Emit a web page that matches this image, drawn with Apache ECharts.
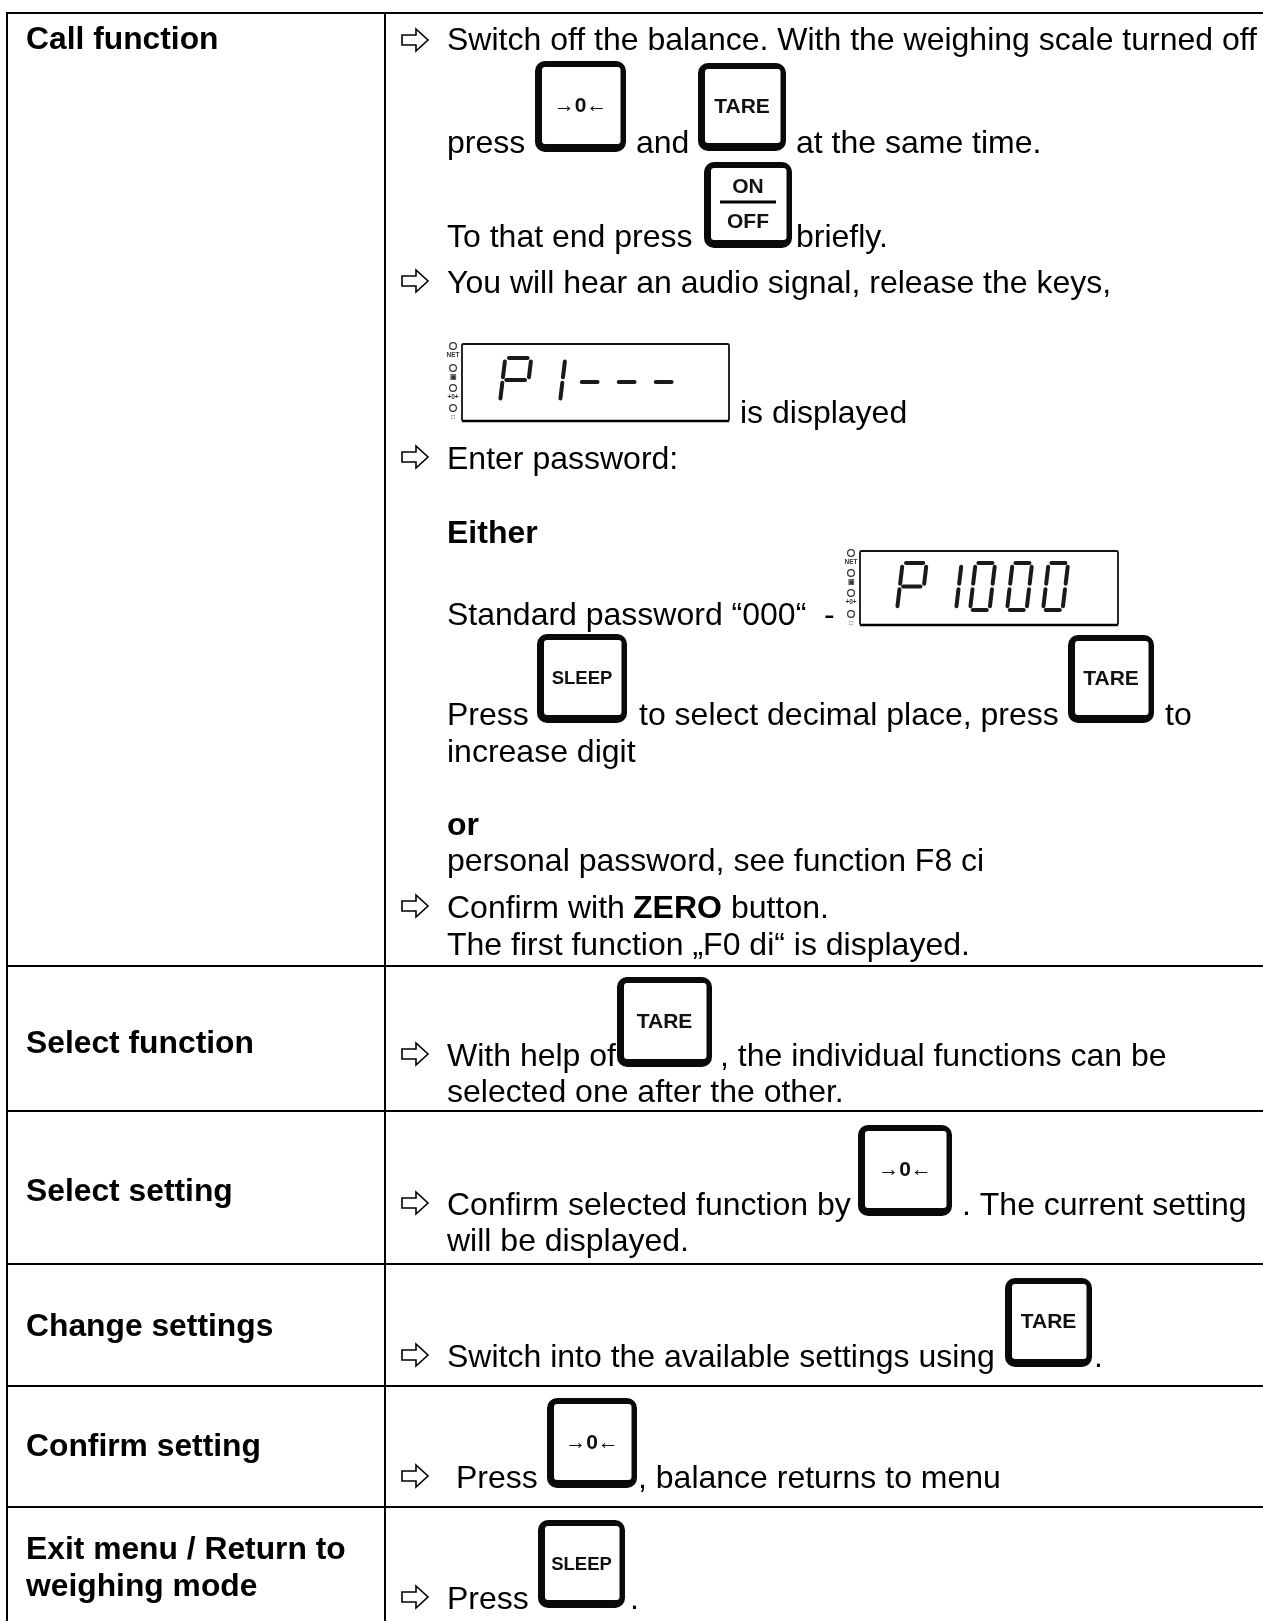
<!DOCTYPE html>
<html><head><meta charset="utf-8">
<style>html,body{margin:0;padding:0;background:#fff}#c{width:1263px;height:1621px}</style>
<script src="https://cdn.jsdelivr.net/npm/echarts@6/dist/echarts.min.js"></script>
</head><body><div id="c"></div>
<script>
const rowLabels = ["Call function","Select function","Select setting","Change settings","Confirm setting","Exit menu / Return to","weighing mode"];
const textLines = ["Switch off the balance. With the weighing scale turned off","press","and","at the same time.","To that end press","briefly.","You will hear an audio signal, release the keys,","is displayed","Enter password:","Standard password “000“  -","Press","to select decimal place, press","to","increase digit","personal password, see function F8 ci","Confirm with","button.","The first function „F0 di“ is displayed.","With help of",", the individual functions can be","selected one after the other.","Confirm selected function by",". The current setting","will be displayed.","Switch into the available settings using",".","Press",", balance returns to menu"];
const boldLines = ["Either","or","ZERO"];
const keyNames = ["→0←","TARE","SLEEP","ON","OFF"];
const lcdTexts = ["P1---","P1000"];
const lcdIconLabels = ["NET","▣","+0+","□"];

const FONT='"Liberation Sans", Arial, sans-serif', FS=32;
const els=[];
const line=(x1,y1,x2,y2,w=2)=>els.push({type:'line',shape:{x1,y1,x2,y2},style:{stroke:'#000',lineWidth:w}});
const TX=(text,x,y,bold,size,align,fill)=>els.push({type:'text',x,y:y-size*0.3465,style:{text,fill:fill||'#000',font:(bold?'bold ':'')+size+'px '+FONT,align:align||'left',verticalAlign:'middle'}});
const T=(text,x,y,bold,size=FS,align='left')=>TX(text,x,y+2,bold,size,align);
const t=(i,x,y)=>T(textLines[i],x,y,false);
const b=(i,x,y)=>T(boldLines[i],x,y,true);
const L=(i,y)=>T(rowLabels[i],26,y,true,31.8);
const arrow=(y)=>{const x=402,c=y-12;els.push({type:'polygon',shape:{points:[[x,c-5],[x+14,c-5],[x+14,c-11],[x+26,c],[x+14,c+11],[x+14,c+5],[x,c+5]]},style:{fill:'#fff',stroke:'#000',lineWidth:1.6}});};
const keyBody=(x1,y1,x2,y2)=>{
  els.push({type:'rect',shape:{x:x1,y:y1,width:x2-x1,height:y2-y1,r:10},style:{fill:'#0a0a0a'}});
  els.push({type:'rect',shape:{x:x1+7,y:y1+6,width:x2-x1-12.5,height:y2-y1-14,r:3},style:{fill:'#fff'}});
};
const key=(i,x1,y1,x2,y2)=>{keyBody(x1,y1,x2,y2);const cx=(x1+x2)/2,cy=(y1+y2)/2;TX(keyNames[i],cx,cy+7,true,i==2?18.5:21,'center','#111');};
const onoff=(x1,y1,x2,y2)=>{keyBody(x1,y1,x2,y2);const cx=(x1+x2)/2;TX(keyNames[3],cx,y1+32,true,21,'center','#111');line(cx-28,y1+40,cx+28,y1+40,3);TX(keyNames[4],cx,y1+67.5,true,21,'center','#111');};
// seven-segment glyphs: a top, b upper right, c lower right, d bottom, e lower left, f upper left, g middle
const SEG={P:'abefg','1':'bc','0':'abcdef','-':'g'};
const digit=(ch,x,y,w,h,lw)=>{const s=0.12*h,p=(fx,fy)=>[x+fx*w+(1-fy)*s,y+fy*h],m={a:[[.14,0],[.86,0]],b:[[1,.08],[1,.44]],c:[[1,.56],[1,.92]],d:[[.14,1],[.86,1]],e:[[0,.56],[0,.92]],f:[[0,.08],[0,.44]],g:[[.14,.5],[.86,.5]]};
for(const k of SEG[ch]){const a=p(...m[k][0]),c=p(...m[k][1]);els.push({type:'line',shape:{x1:a[0],y1:a[1],x2:c[0],y2:c[1]},style:{stroke:'#1a1a1a',lineWidth:lw,lineCap:'round'}});}};
const icons=(x,ys)=>{ys.forEach((y,i)=>{els.push({type:'circle',shape:{cx:x,cy:y-2,r:3.4},style:{fill:'#fff',stroke:'#333',lineWidth:1.2}});TX(lcdIconLabels[i],x,y+9.5,true,6.5,'center','#333');});};
const lcd=(x1,y1,x2,y2)=>{els.push({type:'rect',shape:{x:x1,y:y1,width:x2-x1,height:y2-y1,r:1.5},style:{fill:'#fff',stroke:'#111',lineWidth:1.8}});line(x1,y2,x2,y2,2.6);};

// table
line(6,13,1263,13);line(7,12,7,1621);line(385,12,385,1621);
[966,1111,1264,1386,1507].forEach(y=>line(6,y,1263,y));

// left column
L(0,49);L(1,1053);L(2,1201);L(3,1336);L(4,1456);L(5,1559);L(6,1596);

// row 1
arrow(52);t(0,447,50);
key(0,535,61,626,152);key(1,698,63,786,151);onoff(704,162,792,248);
t(1,447,153);t(2,636,153);t(3,796,153);t(4,447,247);t(5,796,247);
arrow(293);t(6,447,293);
lcd(462,344,729,421);icons(453,[348,370,390,410]);
[['P',500,358,26,44],['1',559,358,1,44],['-',576,360,22,44],['-',613,360,22,44],['-',650,360,22,44]].forEach(d=>digit(d[0],d[1],d[2],d[3],d[4],4));
t(7,740,423);
arrow(469);t(8,447,469);
b(0,447,543);
t(9,447,625);lcd(860,551,1118,625);icons(851,[555,575,595,616]);
[['P',897,563,24,47],['1',953,563,3,47],['0',970,563,19.5,47],['0',1007,563,19.5,47],['0',1043,563,19.5,47]].forEach(d=>digit(d[0],d[1],d[2],d[3],d[4],4));
key(2,537,634,627,723);key(1,1068,635,1154,723);
t(10,447,725);t(11,639,725);t(12,1165,725);t(13,447,762);
b(1,447,835);t(14,447,871);
arrow(918);t(15,447,918);b(2,633,918);t(16,731,918);t(17,447,955);
// row 2
key(1,617,977,712,1067);arrow(1066);t(18,447,1066);t(19,720,1066);t(20,447,1102);
// row 3
key(0,858,1125,952,1216);arrow(1215);t(21,447,1215);t(22,962,1215);t(23,447,1251);
// row 4
key(1,1005,1278,1092,1367);arrow(1367);t(24,447,1367);t(25,1094,1367);
// row 5
key(0,547,1398,637,1488);arrow(1488);t(26,456,1488);t(27,638,1488);
// row 6
key(2,538,1520,625,1608);arrow(1609);t(26,447,1609);t(25,630,1609);

const chart=echarts.init(document.getElementById('c'),null,{renderer:'canvas'});
chart.setOption({animation:false,backgroundColor:'#fff',graphic:{elements:els}});
</script></body></html>
